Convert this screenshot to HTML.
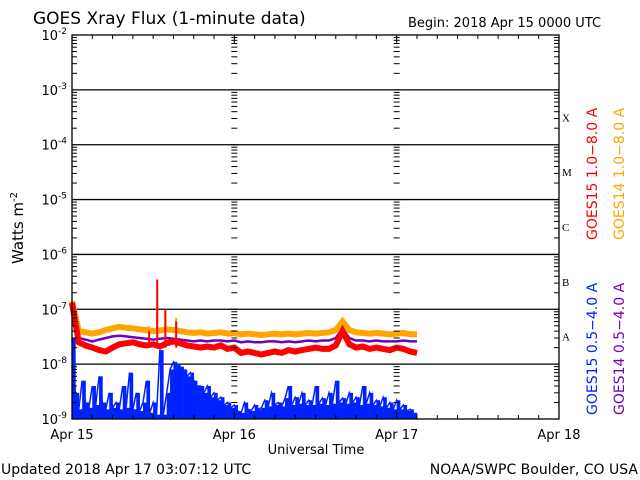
<!DOCTYPE html>
<html><head><meta charset="utf-8"><style>
html,body{margin:0;padding:0;background:#fff;}
svg{display:block;font-family:"DejaVu Sans","Liberation Sans",sans-serif;}
</style></head><body>
<svg id="chart" width="640" height="480" viewBox="0 0 640 480">
<g id="grid"></g>
<g id="series"></g>
<g id="axes"></g>
<text x="33" y="24" font-size="17" fill="#000">GOES Xray Flux (1-minute data)</text>
<text x="408" y="27" font-size="13" fill="#000">Begin:  2018 Apr 15 0000 UTC</text>
<text transform="translate(23,228) rotate(-90)" text-anchor="middle" font-size="15">Watts m<tspan dy="-6" font-size="10">-2</tspan></text>
<text x="316" y="454" text-anchor="middle" font-size="13">Universal Time</text>
<text x="1" y="474" font-size="14">Updated 2018 Apr 17 03:07:12 UTC</text>
<text x="638" y="474" text-anchor="end" font-size="14">NOAA/SWPC Boulder, CO USA</text>
<text transform="translate(597,240) rotate(-90)" font-size="14" fill="#ff0000">GOES15 1.0−8.0 A</text>
<text transform="translate(624,240) rotate(-90)" font-size="14" fill="#ffa500">GOES14 1.0−8.0 A</text>
<text transform="translate(597,415) rotate(-90)" font-size="14" fill="#0022ff">GOES15 0.5−4.0 A</text>
<text transform="translate(624,415) rotate(-90)" font-size="14" fill="#7000c0">GOES14 0.5−4.0 A</text>
</svg>
<script>
// hour offsets from Apr 15 00:00
const dayLabels = ["Apr 15","Apr 16","Apr 17","Apr 18"];
const decadeExps = [-2,-3,-4,-5,-6,-7,-8,-9];
const classLetters = ["X","M","C","B","A"];
const classExps = [-4,-5,-6,-7,-8];
// GOES15 0.5-4.0 A, half-hourly, in units of 1e-9 W/m^2
const goes15Short = [30,3,1.5,5,2,1.6,4,1.8,6,2, 1.5,3,1.6,2,1.5,4,1.6,7,1.5,3, 1.4,2,5,1.3,2,1.2,18,1.2,3,8, 11,10,9,8,6,7,5,4,4,3, 4,2.5,3,2.2,2.5,1.8,2,1.6,1.8,1.4, 1.3,2,1.5,1.4,1.8,1.5,1.6,2.2,1.7,3, 1.8,2,1.7,2.4,4,1.8,2.5,1.9,3,1.8, 2.2,1.8,4,1.9,2.4,1.8,3,1.9,5,2, 2.4,1.9,3,2,2.5,1.8,4,1.9,3,1.8, 2.2,1.7,2.5,1.6,2,1.5,2.2,1.5,1.8,1.4, 1.5,1.3];
// GOES15 1.0-8.0 A, hourly, units 1e-8
const goes15Long = [13,2.5,2.2,2,1.8,1.7,2,2.3,2.4,2.5,2.3,2.2,2.3,2.1,2.4,2.6,2.4,2.2,2.1,2.0,2.1,2.0,2.2,1.9,2.0,1.6,1.7,1.6,1.5,1.6,1.7,1.6,1.8,1.7,1.8,1.9,2.0,1.9,1.9,2.2,4,2.3,2.0,2.1,1.9,2.0,1.9,1.8,2.0,1.9,1.7,1.6];
// GOES14 1.0-8.0 A, hourly, units 1e-8
const goes14Long = [14,4,3.8,3.6,3.8,4.2,4.5,4.8,4.6,4.5,4.3,4.2,4.0,4.1,4.3,4.2,4.0,3.8,3.7,3.8,3.6,3.7,3.8,3.6,3.7,3.5,3.6,3.5,3.4,3.5,3.6,3.5,3.6,3.5,3.6,3.7,3.6,3.7,3.8,4.2,6,4.2,3.8,3.7,3.6,3.7,3.6,3.5,3.6,3.7,3.5,3.5];
// GOES14 0.5-4.0 A (purple), hourly, units 1e-8
const goes14Short = [10,3,2.8,2.6,2.8,3.0,3.2,3.3,3.2,3.1,3.0,2.9,2.8,2.9,3.0,2.9,2.8,2.7,2.6,2.7,2.6,2.7,2.7,2.6,2.7,2.5,2.6,2.5,2.5,2.6,2.6,2.5,2.6,2.5,2.6,2.7,2.6,2.7,2.7,3.0,4.5,3.0,2.7,2.7,2.6,2.7,2.6,2.6,2.6,2.7,2.6,2.6];
// flare spikes (hour, value units 1e-8)
const spikeHours = [11.4,12.6,13.8,15.4];
const spikeRed = [4,35,10,6];
const spikeOrange = [5,12,8,7];

const NS="http://www.w3.org/2000/svg";
const X0=72,X1=559,YT=35,YB=419;
const xs=h=>X0+(X1-X0)*h/72;
const ys=v=>YB-(Math.log10(v)+9)*(YB-YT)/7;
function mk(tag,attrs,parent){const e=document.createElementNS(NS,tag);for(const k in attrs)e.setAttribute(k,attrs[k]);parent.appendChild(e);return e;}
const grid=document.getElementById('grid'),ser=document.getElementById('series'),ax=document.getElementById('axes');

decadeExps.forEach(e=>{
  const y=ys(Math.pow(10,e));
  if(e>-9&&e<-2){const l=mk('line',{x1:X0,x2:X1,y1:y,y2:y,stroke:'#000','stroke-width':1.3},grid);
  
  }
  const t=mk('text',{x:67,y:y+5,'text-anchor':'end','font-size':13},ax);
  
  
  t.innerHTML='10<tspan dy="-6" font-size="9">'+e+'</tspan>';
});
for(let e=-9;e<-2;e++){for(let m=2;m<=9;m++){const y=ys(m*Math.pow(10,e));
  [[X0,X0+5],[X1-5,X1],[xs(24)-3,xs(24)+3],[xs(48)-3,xs(48)+3]].forEach(p=>{mk('line',{x1:p[0],x2:p[1],y1:y,y2:y,stroke:'#000','stroke-width':1},ax);});}
  [xs(24),xs(48)].forEach(x=>{const y=ys(Math.pow(10,e+1));mk('line',{x1:x-4,x2:x+4,y1:y,y2:y,stroke:'#000'},ax);});
}
for(let h=0;h<=72;h+=3){const x=xs(h),L=h%24===0?8:4;
  mk('line',{x1:x,x2:x,y1:YB,y2:YB-L,stroke:'#000'},ax);mk('line',{x1:x,x2:x,y1:YT,y2:YT+L,stroke:'#000'},ax);}
dayLabels.forEach((d,i)=>{const t=mk('text',{x:xs(i*24),y:439,'text-anchor':'middle','font-size':13},ax);t.textContent=d;
  
  });
const frame=mk('rect',{x:X0,y:YT,width:X1-X0,height:YB-YT,fill:'none',stroke:'#000','stroke-width':1.3},ax);


classLetters.forEach((c,i)=>{const y=(ys(Math.pow(10,classExps[i]))+ys(Math.pow(10,classExps[i]+1)))/2+4;
  const t=mk('text',{x:562,y:y,'font-size':11,'font-family':'Liberation Serif, serif'},ax);t.textContent=c;
  
  });

function line(vals,step,scale,color,w,name){
  const pts=vals.map((v,i)=>xs(i*step).toFixed(1)+','+ys(v*scale).toFixed(1)).join(' ');
  const p=mk('polyline',{points:pts,fill:'none',stroke:color,'stroke-width':w,'stroke-linejoin':'miter'},ser);
  
  
}
const bw=xs(0.5)-xs(0);
goes15Short.forEach((v,i)=>{
  const y=ys(v*1e-9);
  const r=mk('rect',{x:xs(i*0.5),y:y,width:bw+0.3,height:Math.max(YB-y,0),fill:'#0022ff'},ser);
  
  
});
line(goes15Short,0.5,1e-9,'#0022ff',1.5,'series-goes15-short');
line(goes14Long,1,1e-8,'#ffa500',6,'series-goes14-long');
line(goes14Short,1,1e-8,'#7000c0',2.5,'series-goes14-short');
line(goes15Long,1,1e-8,'#ff0000',6,'series-goes15-long');
spikeHours.forEach((h,i)=>{
  const x=xs(h);
  const a=mk('line',{x1:x,x2:x,y1:ys(4e-8),y2:ys(spikeOrange[i]*1e-8),stroke:'#ffa500','stroke-width':2},ser);
  
  
  const b=mk('line',{x1:x,x2:x,y1:ys(2e-8),y2:ys(spikeRed[i]*1e-8),stroke:'#ff0000','stroke-width':2},ser);
  
  
});
</script>
</body></html>
